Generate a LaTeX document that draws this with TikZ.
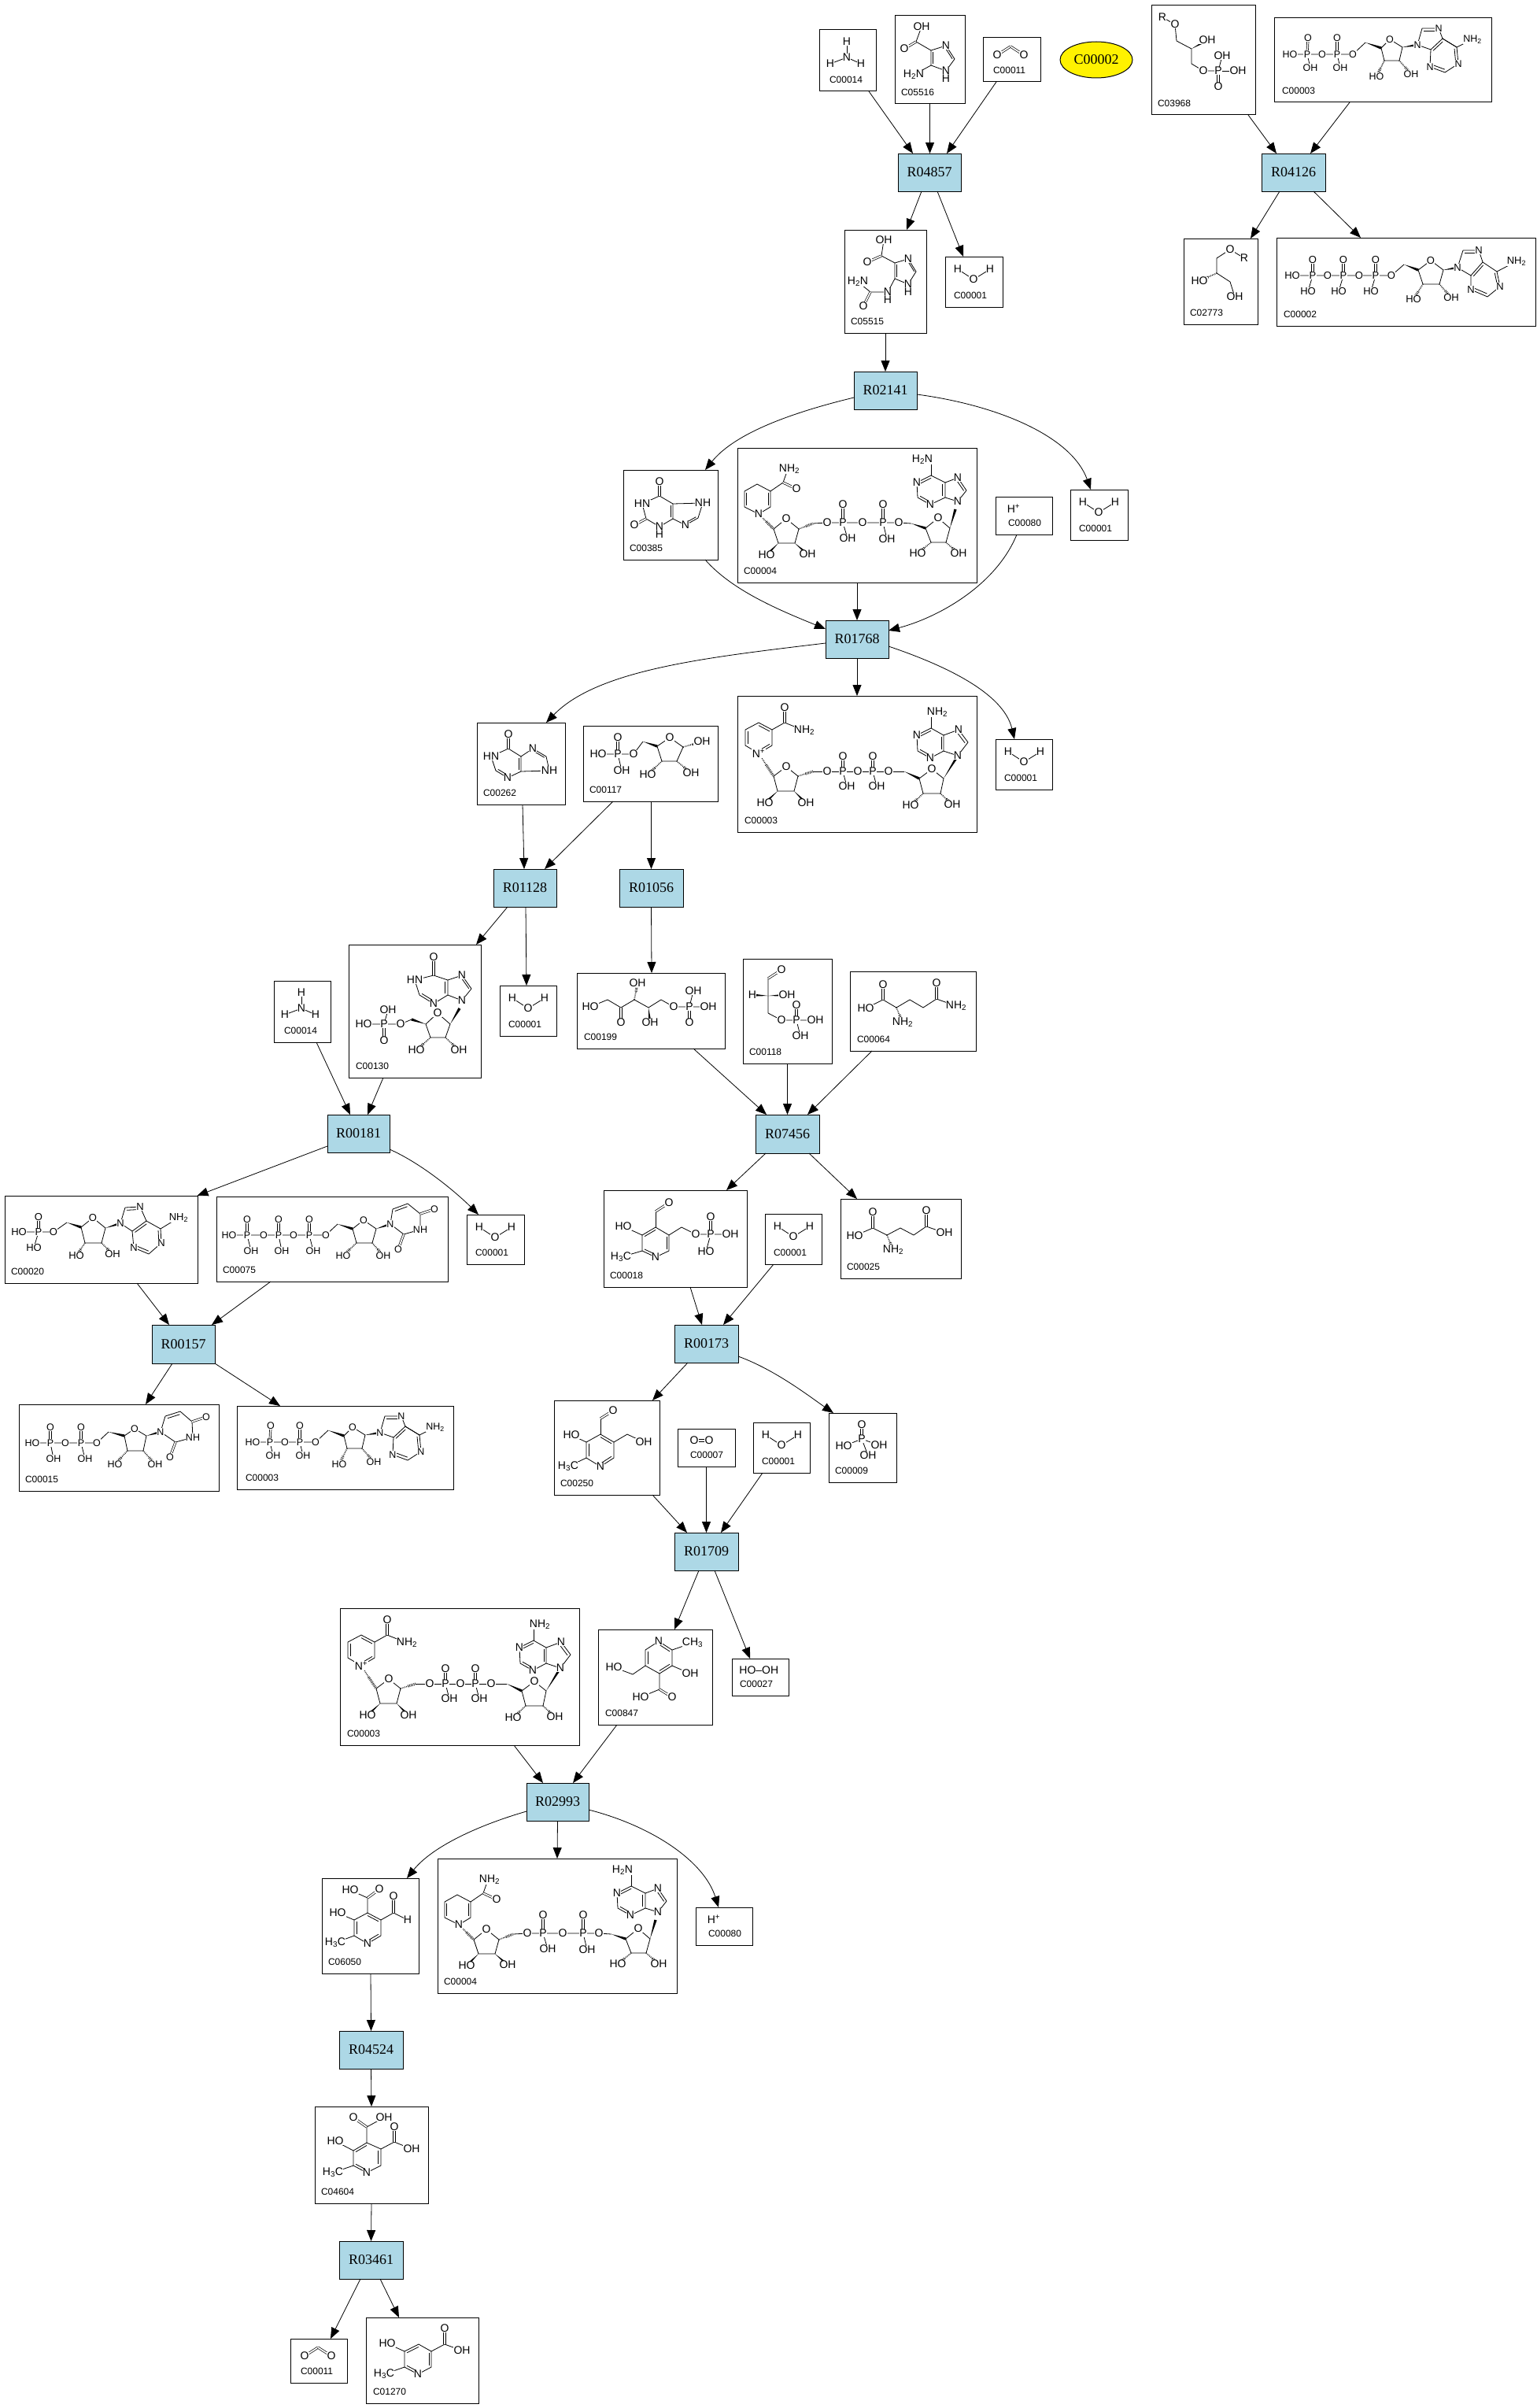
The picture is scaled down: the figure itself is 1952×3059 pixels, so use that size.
\documentclass[tikz,border=0pt]{standalone}
\usepackage{fontspec}
\setmainfont{Liberation Sans}
\newfontfamily\serifR{Liberation Serif}
\usetikzlibrary{arrows.meta,calc,shapes.geometric}
\newcount\atomcnt
\newcommand\afont{\fontsize{14}{15}\selectfont}
\tikzset{
  bd/.style={line width=.8pt,line join=round,black},
  edge/.style={line width=.8pt,black,-{Triangle[length=14pt,width=11pt]}},
  atom/.style={font=\afont,fill=white,inner sep=.4pt,outer sep=0pt,text=black},
  cbox/.style={draw=black,line width=1pt,fill=white,inner sep=0pt,outer sep=0pt},
  rbox/.style={draw=black,line width=1pt,fill=rxblue,inner sep=0pt,outer sep=0pt,font=\fontsize{18}{20}\serifR},
  lab/.style={font=\fontsize{12}{13}\selectfont,inner sep=0pt,outer sep=0pt,anchor=west},
}
\definecolor{rxblue}{HTML}{ADD8E6}
\newcommand\Bn[1]{\draw[bd] plot coordinates {#1};}
\newcommand\Db[2]{\draw[bd,double=white,double distance=1.7pt,line width=.7pt] (#1) -- (#2);}
\newcommand\Inr[3]{\draw[bd] ($(#1)!.18!(#3)$) -- ($(#2)!.18!(#3)$);}
\newcommand\Wd[2]{\fill[black] (#1) -- ($(#2)!1.7pt!90:(#1)$) -- ($(#2)!1.7pt!-90:(#1)$) -- cycle;}
\newcommand\Hh[2]{\draw[line width=1.6pt,dash pattern=on .7pt off 1.2pt] (#1) -- ($(#1)!.5!(#2)$);\draw[line width=3.2pt,dash pattern=on .7pt off 1.2pt] ($(#1)!.5!(#2)$) -- (#2);}
\newcommand\Ao[2]{\global\advance\atomcnt by 1 \node[atom] (atom\the\atomcnt) at (#1) {#2};}
\newcommand\NHt{NH\textsubscript{2}}
\newcommand\Cbox[8]{%
  \node[cbox,minimum width={(#4-#2)*1pt},minimum height={(#5-#3)*1pt}] (#1) at ({(#2+#4)/2},{(#3+#5)/2}) {};
  \begin{scope}[shift={(#2,#3)}]
  #8
  \node[lab] (#1-lab) at (#7,{#5-#3-14.5}) {#6};
  \end{scope}}
\newcommand\Rbox[6]{\node[rbox,minimum width={(#4-#2)*1pt},minimum height={(#5-#3)*1pt}] (#1) at ({(#2+#4)/2},{(#3+#5)/2}) {#6};}
\newcommand\Ed[4]{\draw[edge] ([xshift=#2pt]#1) -- ([xshift=#4pt]#3);}
\newcommand\Aden[9]{%
  \Bn{(#1)(#2)(#3)(#4)(#5)(#1)}\Bn{(#5)(#6)(#7)(#8)(#9)(#4)}
  \coordinate (hc) at ($(#4)!.5!(#7)$);\coordinate (pc) at ($(#4)!.5!(#1)$);
  \Inr{#5}{#4}{hc}\Inr{#6}{#7}{hc}\Inr{#8}{#9}{hc}\Inr{#2}{#3}{pc}
  \Ao{#1}{N}\Ao{#3}{N}\Ao{#6}{N}\Ao{#8}{N}}
\newcommand\MWater{\Bn{(16,16)(36,29)(57,16)}\Ao{16,16}{H}\Ao{36,29}{O}\Ao{57,16}{H}}
\newcommand\MAmm{\Bn{(35,15)(35,35)}\Bn{(14,43)(35,35)(53,43)}\Ao{35,15}{H}\Ao{35,35}{N}\Ao{14,43}{H}\Ao{53,43}{H}}
\newcommand\MCOO{\Db{18,22}{35,11}\Db{35,11}{52,22}\Ao{18,22}{O}\Ao{52,22}{O}}
\newcommand\MNADp{%
  \Bn{(27,73)(10,63)(10,43)(27,34)(44,43)(44,63)(27,73)}
  \Inr{10,43}{10,63}{27,54}\Inr{27,34}{44,43}{27,54}\Inr{44,63}{27,73}{27,54}
  \Bn{(44,43)(60,34)(85,44)}\Db{60,34}{60,15}
  \Hh{27,73}{46,102}
  \Bn{(46,102)(62,90)(77,102)(72,121)(51,121)(46,102)}
  \Wd{51,121}{35,136}\Wd{72,121}{87,136}
  \Hh{77,102}{96,96}\Bn{(96,96)(114,96)(134,96)(153,96)(172,96)(192,96)(212,96)}
  \Db{134,96}{134,77}\Db{172,96}{172,77}\Bn{(134,96)(139,115)}\Bn{(172,96)(177,115)}
  \Wd{212,96}{231,105}
  \Bn{(231,105)(247,93)(262,105)(258,124)(236,124)(231,105)}
  \Hh{236,124}{220,139}\Hh{258,124}{273,138}\Wd{262,105}{280,76}
  \Bn{(246,41)(246,21)}
  \Aden{280,76}{293,59}{281,43}{262,50}{262,70}{245,79}{229,70}{228,50}{246,41}
  \Ao{27,73}{N\textsuperscript{+}}\Ao{60,15}{O}\Ao{85,44}{\NHt}\Ao{62,90}{O}\Ao{35,136}{HO}\Ao{87,136}{OH}
  \Ao{114,96}{O}\Ao{134,96}{P}\Ao{134,77}{O}\Ao{139,115}{OH}\Ao{153,96}{O}\Ao{172,96}{P}\Ao{172,77}{O}\Ao{177,115}{OH}\Ao{192,96}{O}
  \Ao{247,93}{O}\Ao{220,139}{HO}\Ao{273,138}{OH}\Ao{254,21}{\NHt}}
\newcommand\MNADH{%
  \Bn{(27,84)(9,75)(9,55)(25,46)(42,55)(42,75)(27,84)}\Inr{9,55}{9,75}{25,65}\Inr{42,55}{42,75}{25,65}
  \Bn{(42,55)(58,44)(63,30)}\Db{58,44}{75,52}
  \Hh{27,84}{46,103}
  \Bn{(46,103)(62,90)(78,103)(73,121)(52,121)(46,103)}
  \Wd{52,121}{37,136}\Wd{73,121}{89,135}
  \Hh{78,103}{96,96}\Bn{(96,96)(114,95)(134,95)(159,95)(185,95)(205,95)(221,96)}
  \Db{134,95}{134,72}\Db{185,95}{185,72}\Bn{(134,95)(140,115)}\Bn{(185,95)(190,116)}
  \Wd{221,96}{239,102}
  \Bn{(239,102)(255,89)(270,102)(265,120)(246,120)(239,102)}
  \Hh{246,120}{229,134}\Hh{265,120}{281,134}\Wd{270,102}{277,78}
  \Bn{(246,35)(246,15)}
  \Aden{280,68}{291,54}{280,38}{264,44}{264,63}{245,72}{229,63}{228,44}{246,35}
  \Ao{27,84}{N}\Ao{66,27}{\NHt}\Ao{75,52}{O}\Ao{62,90}{O}\Ao{37,136}{HO}\Ao{89,135}{OH}
  \Ao{114,95}{O}\Ao{134,95}{P}\Ao{134,72}{O}\Ao{140,115}{OH}\Ao{159,95}{O}\Ao{185,95}{P}\Ao{185,72}{O}\Ao{190,116}{OH}\Ao{205,95}{O}
  \Ao{255,89}{O}\Ao{229,134}{HO}\Ao{281,134}{OH}\Ao{235,15}{H\textsubscript{2}N}}
\newcommand\MADP{%
  \renewcommand\afont{\fontsize{12.5}{13}\selectfont}%
  \Bn{(20,46)(42,46)(61,46)(80,46)(100,46)(116,31)}
  \Db{42,46}{43,25}\Db{80,46}{80,25}\Bn{(42,46)(46,63)}\Bn{(80,46)(84,63)}
  \Wd{116,31}{136,38}
  \Bn{(136,38)(147,27)(163,37)(159,54)(140,54)(136,38)}
  \Hh{140,54}{130,74}\Hh{159,54}{174,71}\Wd{163,37}{182,34}
  \Bn{(214,26)(232,37)(252,27)}
  \Aden{182,34}{188,13}{209,13}{214,26}{199,40}{198,62}{217,69}{234,58}{232,37}
  \Ao{20,46}{HO}\Ao{42,46}{P}\Ao{43,25}{O}\Ao{46,63}{OH}\Ao{61,46}{O}\Ao{80,46}{P}\Ao{80,25}{O}\Ao{84,63}{OH}\Ao{100,46}{O}
  \Ao{147,27}{O}\Ao{130,74}{HO}\Ao{174,71}{OH}\Ao{252,27}{\NHt}}
\begin{document}
\begin{tikzpicture}[x=1pt,y=-1pt]
\useasboundingbox (0,0) rectangle (1952,3059);
\fill[white] (0,0) rectangle (1952,3059);

% ---------- top left group
\Cbox{c14a}{1041}{38}{1113}{116}{C00014}{13}{\MAmm}
\Cbox{c5516}{1137}{20}{1226}{132}{C05516}{8}{%
  \Bn{(34,14)(27,33)(46,44)(65,38)(76,55)(65,70)(46,63)(46,44)}\Bn{(46,63)(24,75)}\Db{27,33}{12,42}\Inr{46,44}{46,63}{60,54}\Inr{65,38}{76,55}{60,54}
  \Ao{34,14}{OH}\Ao{12,42}{O}\Ao{65,38}{N}\Ao{65,70}{N}\Ao{65,80}{H}\Ao{24,75}{H\textsubscript{2}N}}
\Cbox{c11a}{1249}{48}{1322}{104}{C00011}{13}{\MCOO}
\node[ellipse,draw=black,line width=1pt,fill=yellow,inner sep=0pt,outer sep=0pt,minimum width=92pt,minimum height=46pt,font=\fontsize{18}{20}\serifR] (c2y) at (1393,76) {C00002};
\Rbox{r4857}{1141}{195}{1221}{243}{R04857}
\Cbox{c5515}{1073}{292}{1177}{423}{C05515}{8}{%
  \Bn{(50,13)(47,33)(64,42)(81,37)(91,53)(81,69)(64,62)(64,42)}\Db{47,33}{29,41}\Inr{64,42}{64,62}{78,52}\Inr{81,37}{91,53}{78,52}
  \Bn{(64,62)(55,79)(33,79)(17,66)}\Db{33,79}{24,97}
  \Ao{50,13}{OH}\Ao{29,41}{O}\Ao{81,37}{N}\Ao{81,69}{N}\Ao{81,79}{H}\Ao{17,66}{H\textsubscript{2}N}\Ao{24,97}{O}\Ao{55,79}{N}\Ao{55,89}{H}}
\Cbox{c1a}{1201}{326}{1274}{390}{C00001}{11}{\MWater}
\Rbox{r2141}{1085}{472}{1165}{520}{R02141}

% ---------- top right group
\Cbox{c3968}{1463}{7}{1595}{146}{C03968}{8}{%
  \Bn{(14,15)(30,24)(32,45)(51,55)(51,74)(66,83)(85,83)(90,64)}\Bn{(85,83)(110,83)}\Db{85,83}{85,103}\Wd{51,55}{71,44}
  \Ao{14,15}{R}\Ao{30,24}{O}\Ao{71,44}{OH}\Ao{66,83}{O}\Ao{85,83}{P}\Ao{90,64}{OH}\Ao{110,83}{OH}\Ao{85,103}{O}}
\Cbox{c3a}{1619}{23}{1895}{130}{C00003}{10}{\MADP}
\Rbox{r4126}{1603}{195}{1684}{243}{R04126}
\Cbox{c2773}{1504}{303}{1598}{412}{C02773}{8}{%
  \Bn{(77,25)(59,14)(42,25)(42,44)(59,55)(65,74)}\Hh{42,44}{20,54}
  \Ao{59,14}{O}\Ao{77,25}{R}\Ao{20,54}{HO}\Ao{65,74}{OH}}
\Cbox{c2}{1622}{302}{1951}{414}{C00002}{9}{%
  \renewcommand\afont{\fontsize{13}{14}\selectfont}%
  \Bn{(20,48)(46,48)(65,48)(85,48)(105,48)(126,48)(146,48)(162,34)}
  \Db{46,48}{46,28}\Db{85,48}{85,28}\Db{126,48}{126,28}\Bn{(46,48)(40,68)}\Bn{(85,48)(79,68)}\Bn{(126,48)(120,68)}
  \Wd{162,34}{180,41}
  \Bn{(180,41)(196,29)(212,41)(207,59)(186,59)(180,41)}
  \Hh{186,59}{174,78}\Hh{207,59}{222,76}\Wd{212,41}{230,38}
  \Bn{(280,43)(305,30)}
  \Aden{230,38}{237,16}{257,16}{262,31}{247,48}{247,66}{268,75}{284,62}{280,43}
  \Ao{20,48}{HO}\Ao{46,48}{P}\Ao{46,28}{O}\Ao{40,68}{HO}\Ao{65,48}{O}\Ao{85,48}{P}\Ao{85,28}{O}\Ao{79,68}{HO}\Ao{105,48}{O}\Ao{126,48}{P}\Ao{126,28}{O}\Ao{120,68}{HO}\Ao{146,48}{O}
  \Ao{196,29}{O}\Ao{174,78}{HO}\Ao{222,76}{OH}\Ao{305,30}{\NHt}}

% ---------- R01768 row
\Cbox{c385}{792}{597}{912}{711}{C00385}{8}{%
  \Bn{(46,33)(24,43)(29,62)(46,72)(63,62)(63,43)(46,33)}\Bn{(63,43)(101,42)(95,61)(79,70)(63,62)}\Db{46,33}{46,15}\Db{29,62}{14,70}\Inr{63,62}{63,43}{46,52}\Inr{95,61}{79,70}{80,54}
  \Ao{46,15}{O}\Ao{24,43}{HN}\Ao{14,70}{O}\Ao{46,72}{N}\Ao{46,82}{H}\Ao{101,42}{NH}\Ao{79,70}{N}}
\Cbox{c4a}{937}{569}{1241}{740}{C00004}{8}{\MNADH}
\Cbox{c80a}{1265}{631}{1337}{679}{C00080}{16}{\Ao{23,15}{H\textsuperscript{+}}}
\Cbox{c1b}{1360}{622}{1433}{686}{C00001}{11}{\MWater}
\Rbox{r1768}{1049}{788}{1129}{836}{R01768}
\Cbox{c3b}{937}{884}{1241}{1057}{C00003}{9}{\MNADp}
\Cbox{c1c}{1265}{939}{1337}{1003}{C00001}{11}{\MWater}
\Cbox{c262}{606}{918}{718}{1022}{C00262}{8}{%
  \Bn{(40,33)(18,43)(24,61)(39,70)(56,62)(56,43)(40,33)}\Bn{(56,43)(71,33)(88,43)(92,61)(56,62)}\Db{40,33}{40,15}\Inr{56,62}{56,43}{40,52}\Inr{24,61}{39,70}{40,52}\Inr{71,33}{88,43}{75,50}
  \Ao{40,15}{O}\Ao{18,43}{HN}\Ao{39,70}{N}\Ao{71,33}{N}\Ao{92,61}{NH}}
\Cbox{c117}{741}{922}{912}{1018}{C00117}{8}{%
  \Bn{(19,36)(44,36)(64,36)(76,20)}\Db{44,36}{44,15}\Bn{(44,36)(49,57)}\Wd{76,20}{94,26}
  \Bn{(94,26)(110,15)(127,27)(119,45)(100,45)(94,26)}\Hh{100,45}{82,62}\Hh{119,45}{137,60}\Hh{127,27}{151,20}
  \Ao{19,36}{HO}\Ao{44,36}{P}\Ao{44,15}{O}\Ao{49,57}{OH}\Ao{64,36}{O}\Ao{110,15}{O}\Ao{82,62}{HO}\Ao{137,60}{OH}\Ao{151,20}{OH}}
\Rbox{r1128}{627}{1104}{707}{1152}{R01128}
\Rbox{r1056}{787}{1104}{868}{1152}{R01056}
\Cbox{c130}{443}{1200}{611}{1369}{C00130}{9}{%
  \Bn{(108,39)(84,45)(90,64)(108,75)(126,64)(126,45)(108,39)}\Bn{(126,45)(144,39)(156,56)(144,71)(126,64)}\Db{108,39}{108,16}\Inr{90,64}{108,75}{108,55}\Inr{126,64}{126,45}{108,55}\Inr{144,39}{156,56}{138,55}
  \Wd{129,101}{141,81}
  \Bn{(129,101)(113,87)(98,101)(104,118)(123,118)(129,101)}\Hh{104,118}{86,134}\Hh{123,118}{140,134}
  \Wd{98,101}{80,95}\Bn{(80,95)(66,101)(45,101)(19,101)}\Bn{(45,101)(50,83)}\Db{45,101}{45,122}
  \Ao{108,16}{O}\Ao{84,45}{HN}\Ao{108,75}{N}\Ao{144,39}{N}\Ao{144,71}{N}\Ao{113,87}{O}\Ao{86,134}{HO}\Ao{140,134}{OH}\Ao{66,101}{O}\Ao{45,101}{P}\Ao{50,83}{OH}\Ao{19,101}{HO}\Ao{45,122}{O}}
\Cbox{c1d}{635}{1252}{707}{1316}{C00001}{11}{\MWater}
\Cbox{c199}{733}{1236}{921}{1332}{C00199}{9}{%
  \Bn{(17,43)(39,34)(56,44)(73,34)(91,44)(107,34)(123,43)(143,43)(167,43)}\Bn{(143,43)(148,23)}\Db{56,44}{56,63}\Db{143,43}{143,63}\Hh{73,34}{77,13}\Wd{91,44}{93,63}
  \Ao{17,43}{HO}\Ao{56,63}{O}\Ao{77,13}{OH}\Ao{93,63}{OH}\Ao{123,43}{O}\Ao{143,43}{P}\Ao{148,23}{OH}\Ao{167,43}{OH}\Ao{143,63}{O}}
\Cbox{c118}{944}{1218}{1057}{1351}{C00118}{8}{%
  \Db{32,25}{49,14}\Bn{(32,25)(32,47)(32,69)(49,78)(68,78)(92,78)}\Bn{(68,78)(73,98)}\Db{68,78}{68,59}\Wd{32,47}{12,46}\Wd{32,47}{56,46}
  \Ao{49,14}{O}\Ao{12,46}{H}\Ao{56,46}{OH}\Ao{49,78}{O}\Ao{68,78}{P}\Ao{68,59}{O}\Ao{92,78}{OH}\Ao{73,98}{OH}}
\Cbox{c64}{1080}{1234}{1240}{1335}{C00064}{9}{%
  \Bn{(20,47)(42,36)(59,46)(76,36)(93,46)(110,35)(135,44)}\Db{42,36}{42,17}\Db{110,35}{110,15}\Hh{59,46}{67,65}
  \Ao{42,17}{O}\Ao{20,47}{HO}\Ao{67,65}{\NHt}\Ao{110,15}{O}\Ao{135,44}{\NHt}}

% ---------- R00181 group
\Cbox{c14b}{348}{1246}{420}{1324}{C00014}{13}{\MAmm}
\Rbox{r181}{416}{1416}{495}{1464}{R00181}
\Cbox{c20}{6}{1519}{251}{1630}{C00020}{8}{%
  \renewcommand\afont{\fontsize{13}{14}\selectfont}%
  \Bn{(18,46)(43,46)(62,46)(79,34)}\Db{43,46}{43,27}\Bn{(43,46)(37,66)}\Wd{79,34}{97,40}
  \Bn{(97,40)(112,28)(128,41)(123,60)(102,60)(97,40)}\Hh{102,60}{91,76}\Hh{123,60}{137,74}\Wd{128,41}{147,35}
  \Bn{(198,42)(221,28)}
  \Aden{147,35}{153,15}{172,14}{180,32}{162,45}{164,66}{183,74}{199,60}{198,42}
  \Ao{18,46}{HO}\Ao{43,46}{P}\Ao{43,27}{O}\Ao{37,66}{HO}\Ao{62,46}{O}\Ao{112,28}{O}\Ao{91,76}{HO}\Ao{137,74}{OH}\Ao{221,28}{\NHt}}
\Cbox{c75}{275}{1520}{569}{1628}{C00075}{8}{%
  \renewcommand\afont{\fontsize{12.5}{13}\selectfont}%
  \Bn{(16,49)(39,49)(60,49)(79,49)(98,49)(118,49)(139,49)(154,35)}
  \Db{39,49}{39,29}\Db{79,49}{79,29}\Db{118,49}{118,29}\Bn{(39,49)(44,69)}\Bn{(79,49)(83,69)}\Bn{(118,49)(123,69)}
  \Wd{154,35}{173,41}\Bn{(173,41)(187,30)(203,41)(198,59)(178,59)(173,41)}\Hh{178,59}{161,75}\Hh{198,59}{212,75}\Wd{203,41}{221,35}
  \Bn{(221,35)(224,16)(243,9)(259,22)(259,42)(238,48)(221,35)}\Inr{224,16}{243,9}{240,30}\Db{259,22}{277,16}\Db{238,48}{231,67}
  \Ao{16,49}{HO}\Ao{39,49}{P}\Ao{39,29}{O}\Ao{44,69}{OH}\Ao{60,49}{O}\Ao{79,49}{P}\Ao{79,29}{O}\Ao{83,69}{OH}\Ao{98,49}{O}\Ao{118,49}{P}\Ao{118,29}{O}\Ao{123,69}{OH}\Ao{139,49}{O}
  \Ao{187,30}{O}\Ao{161,75}{HO}\Ao{212,75}{OH}\Ao{221,35}{N}\Ao{277,16}{O}\Ao{259,42}{NH}\Ao{231,67}{O}}
\Cbox{c1e}{593}{1543}{666}{1606}{C00001}{11}{\MWater}
\Rbox{r157}{193}{1683}{273}{1732}{R00157}
\Cbox{c15}{24}{1784}{278}{1894}{C00015}{8}{%
  \renewcommand\afont{\fontsize{12.5}{13}\selectfont}%
  \Bn{(17,49)(40,49)(59,49)(79,49)(99,49)(114,35)}
  \Db{40,49}{40,29}\Db{79,49}{79,29}\Bn{(40,49)(44,69)}\Bn{(79,49)(84,69)}
  \Wd{114,35}{134,40}\Bn{(134,40)(147,31)(162,40)(158,59)(138,59)(134,40)}\Hh{138,59}{122,76}\Hh{158,59}{173,76}\Wd{162,40}{180,35}
  \Bn{(180,35)(186,15)(205,9)(220,22)(221,42)(199,48)(180,35)}\Inr{186,15}{205,9}{202,30}\Db{220,22}{238,16}\Db{199,48}{192,67}
  \Ao{17,49}{HO}\Ao{40,49}{P}\Ao{40,29}{O}\Ao{44,69}{OH}\Ao{59,49}{O}\Ao{79,49}{P}\Ao{79,29}{O}\Ao{84,69}{OH}\Ao{99,49}{O}
  \Ao{147,31}{O}\Ao{122,76}{HO}\Ao{173,76}{OH}\Ao{180,35}{N}\Ao{238,16}{O}\Ao{221,42}{NH}\Ao{192,67}{O}}
\Cbox{c3c}{301}{1786}{576}{1892}{C00003}{11}{\MADP}

% ---------- R07456 group
\Rbox{r7456}{960}{1416}{1041}{1465}{R07456}
\Cbox{c18}{767}{1512}{949}{1635}{C00018}{8}{%
  \Bn{(66,47)(49,57)(49,77)(66,85)(83,77)(83,57)(66,47)}\Inr{66,47}{49,57}{66,66}\Inr{49,77}{66,85}{66,66}\Inr{83,77}{83,57}{66,66}
  \Bn{(66,47)(66,27)}\Db{66,27}{83,16}\Bn{(49,57)(25,46)}\Bn{(49,77)(22,85)}\Bn{(83,57)(99,47)(117,56)(136,56)(161,56)}\Db{136,56}{136,34}\Bn{(136,56)(130,78)}
  \Ao{83,16}{O}\Ao{25,46}{HO}\Ao{22,85}{H\textsubscript{3}C}\Ao{66,85}{N}\Ao{117,56}{O}\Ao{136,56}{P}\Ao{136,34}{O}\Ao{161,56}{OH}\Ao{130,78}{HO}}
\Cbox{c1f}{972}{1542}{1044}{1606}{C00001}{11}{\MWater}
\Cbox{c25}{1068}{1523}{1221}{1624}{C00025}{8}{%
  \Bn{(18,47)(41,37)(59,46)(76,37)(93,46)(109,35)(132,43)}\Db{41,37}{41,17}\Db{109,35}{109,15}\Hh{59,46}{67,65}
  \Ao{41,17}{O}\Ao{18,47}{HO}\Ao{67,65}{\NHt}\Ao{109,15}{O}\Ao{132,43}{OH}}
\Rbox{r173}{857}{1683}{938}{1731}{R00173}
\Cbox{c250}{704}{1779}{838}{1899}{C00250}{8}{%
  \Bn{(59,43)(41,53)(41,73)(59,84)(76,73)(76,53)(59,43)}\Inr{59,43}{76,53}{59,63}\Inr{41,53}{41,73}{59,63}\Inr{59,84}{76,73}{59,63}
  \Bn{(59,43)(59,23)}\Db{59,23}{75,13}\Bn{(41,53)(22,44)}\Bn{(41,73)(18,84)}\Bn{(76,53)(93,43)(114,53)}
  \Ao{75,13}{O}\Ao{22,44}{HO}\Ao{18,84}{H\textsubscript{3}C}\Ao{59,84}{N}\Ao{114,53}{OH}}
\Cbox{c7}{861}{1815}{934}{1863}{C00007}{16}{\Db{21,15}{40,15}\Ao{21,15}{O}\Ao{40,15}{O}}
\Cbox{c1g}{957}{1807}{1029}{1871}{C00001}{11}{\MWater}
\Cbox{c9}{1053}{1795}{1139}{1883}{C00009}{8}{%
  \Db{42,33}{42,15}\Bn{(19,42)(42,33)(64,41)}\Bn{(42,33)(50,54)}
  \Ao{42,15}{O}\Ao{42,33}{P}\Ao{19,42}{HO}\Ao{64,41}{OH}\Ao{50,54}{OH}}
\Rbox{r1709}{857}{1947}{938}{1995}{R01709}

% ---------- R02993 group
\Cbox{c3d}{432}{2043}{736}{2217}{C00003}{9}{\MNADp}
\Cbox{c847}{760}{2070}{905}{2191}{C00847}{9}{%
  \Bn{(77,15)(94,26)(94,46)(78,56)(60,46)(60,26)(77,15)}\Inr{77,15}{94,26}{77,36}\Inr{94,46}{78,56}{77,36}\Inr{60,46}{60,26}{77,36}
  \Bn{(94,26)(120,17)}\Bn{(94,46)(117,56)}\Bn{(60,46)(44,57)(20,48)}\Bn{(78,56)(78,76)(54,86)}\Db{78,76}{94,86}
  \Ao{77,15}{N}\Ao{120,17}{CH\textsubscript{3}}\Ao{117,56}{OH}\Ao{20,48}{HO}\Ao{54,86}{HO}\Ao{94,86}{O}}
\Cbox{c27}{930}{2107}{1002}{2154}{C00027}{10}{\node[atom,anchor=west] (c27-t) at (9,15) {HO--OH};}
\Rbox{r2993}{669}{2265}{748}{2313}{R02993}
\Cbox{c6050}{409}{2386}{532}{2507}{C06050}{8}{%
  \Bn{(58,44)(41,53)(41,73)(58,83)(75,73)(75,53)(58,44)}\Inr{58,44}{75,53}{58,63}\Inr{41,53}{41,73}{58,63}\Inr{58,83}{75,73}{58,63}
  \Bn{(58,44)(58,25)(36,15)}\Db{58,25}{73,14}\Bn{(41,53)(20,44)}\Bn{(41,73)(17,82)}\Bn{(75,53)(91,44)(109,53)}\Db{91,44}{91,23}
  \Ao{36,15}{HO}\Ao{73,14}{O}\Ao{20,44}{HO}\Ao{17,82}{H\textsubscript{3}C}\Ao{58,83}{N}\Ao{91,23}{O}\Ao{109,53}{H}}
\Cbox{c4b}{556}{2361}{860}{2532}{C00004}{8}{\MNADH}
\Cbox{c80b}{884}{2423}{956}{2471}{C00080}{16}{\Ao{23,15}{H\textsuperscript{+}}}
\Rbox{r4524}{431}{2580}{512}{2628}{R04524}
\Cbox{c4604}{400}{2676}{544}{2799}{C04604}{8}{%
  \Bn{(66,46)(49,56)(49,75)(66,84)(84,75)(84,54)(66,46)}\Inr{66,46}{49,56}{66,65}\Inr{49,75}{66,84}{66,65}\Inr{84,75}{84,54}{66,65}
  \Bn{(66,46)(66,26)(88,14)}\Db{66,26}{49,14}\Bn{(49,56)(26,44)}\Bn{(49,75)(23,84)}\Bn{(84,54)(101,45)(123,54)}\Db{101,45}{101,26}
  \Ao{49,14}{O}\Ao{88,14}{OH}\Ao{26,44}{HO}\Ao{23,84}{H\textsubscript{3}C}\Ao{66,84}{N}\Ao{101,26}{O}\Ao{123,54}{OH}}
\Rbox{r3461}{431}{2847}{512}{2895}{R03461}
\Cbox{c11b}{369}{2971}{441}{3027}{C00011}{13}{\MCOO}
\Cbox{c1270}{465}{2944}{608}{3053}{C01270}{9}{%
  \Bn{(49,43)(67,34)(83,43)(83,63)(66,72)(49,63)(49,43)}\Inr{49,43}{67,34}{66,53}\Inr{83,43}{83,63}{66,53}\Inr{66,72}{49,63}{66,53}
  \Bn{(49,43)(27,33)}\Bn{(49,63)(23,72)}\Bn{(83,43)(100,34)(122,42)}\Db{100,34}{100,14}
  \Ao{27,33}{HO}\Ao{23,72}{H\textsubscript{3}C}\Ao{66,72}{N}\Ao{100,14}{O}\Ao{122,42}{OH}}

% ---------- connectors
\Ed{c14a.south}{27}{r4857.north}{-21}
\Ed{c5516.south}{0}{r4857.north}{0.5}
\Ed{c11a.south}{-19.5}{r4857.north}{22}
\Ed{r4857.south}{-10}{c5515.north}{27}
\Ed{r4857.south}{10}{c1a.north}{-13.5}
\Ed{c5515.south}{0}{r2141.north}{0}
\Ed{c3968.south}{57}{r4126.north}{-21.5}
\Ed{c3a.south}{-42}{r4126.north}{21.5}
\Ed{r4126.south}{-17.5}{c2773.north}{38}
\Ed{r4126.south}{25.5}{c2.north}{-57.5}
\draw[edge] ([yshift=-9pt]r2141.west) .. controls (990,528) and (930,555) .. ([xshift=44pt]c385.north);
\draw[edge] ([yshift=-5pt]r2141.east) .. controls (1270,515) and (1362,555) .. ([xshift=-10.5pt]c1b.north);
\draw[edge] ([xshift=44pt]c385.south) .. controls (930,750) and (990,775) .. ([yshift=13pt]r1768.west);
\Ed{c4a.south}{0}{r1768.north}{0}
\draw[edge] ([xshift=-9pt]c80a.south) .. controls (1265,745) and (1190,785) .. ([yshift=11pt]r1768.east);
\draw[edge] ([yshift=-5pt]r1768.west) .. controls (900,835) and (760,850) .. ([xshift=32pt]c262.north);
\Ed{r1768.south}{0}{c3b.north}{0}
\draw[edge] ([yshift=-9pt]r1768.east) .. controls (1200,845) and (1275,880) .. ([xshift=-12pt]c1c.north);
\Ed{c262.south}{2}{r1128.north}{-1}
\Ed{c117.south}{-47.5}{r1128.north}{25}
\Ed{c117.south}{1}{r1056.north}{0}
\Ed{r1128.south}{-22}{c130.north}{78}
\Ed{r1128.south}{1}{c1d.north}{-2}
\Ed{r1056.south}{0}{c199.north}{1}
\Ed{c14b.south}{18}{r181.north}{-10.5}
\Ed{c130.south}{-40}{r181.north}{11.5}
\draw[edge] ([yshift=-16pt]r181.west) -- ([xshift=122pt]c20.north);
\draw[edge] ([yshift=-20pt]r181.east) .. controls (540,1480) and (585,1520) .. ([xshift=-21.5pt]c1e.north);
\Ed{c20.south}{45.5}{r157.north}{-18}
\Ed{c75.south}{-78}{r157.north}{36}
\Ed{r157.south}{-14}{c15.north}{34}
\Ed{r157.south}{40}{c3c.north}{-82.5}
\Ed{c199.south}{54}{r7456.north}{-26.5}
\Ed{c118.south}{0}{r7456.north}{0}
\Ed{c64.south}{-52}{r7456.north}{25.5}
\Ed{r7456.south}{-27.5}{c18.north}{65}
\Ed{r7456.south}{27.5}{c25.north}{-55.5}
\Ed{c18.south}{19}{r173.north}{-5.5}
\Ed{c1f.south}{-25}{r173.north}{21.5}
\Ed{r173.south}{-23.5}{c250.north}{58}
\draw[edge] ([yshift=-16pt]r173.east) .. controls (985,1740) and (1030,1775) .. ([xshift=-37pt]c9.north);
\Ed{c250.south}{58}{r1709.north}{-24.5}
\Ed{c7.south}{0}{r1709.north}{0}
\Ed{c1g.south}{-24}{r1709.north}{18.5}
\Ed{r1709.south}{-9.5}{c847.north}{24.5}
\Ed{r1709.south}{10.5}{c27.north}{-13}
\Ed{c3d.south}{69}{r2993.north}{-18.5}
\Ed{c847.south}{-48.5}{r2993.north}{19.5}
\draw[edge] ([yshift=-12pt]r2993.west) .. controls (610,2318) and (550,2345) .. ([xshift=46.5pt]c6050.north);
\Ed{r2993.south}{0}{c4b.north}{0}
\draw[edge] ([yshift=-10pt]r2993.east) .. controls (830,2320) and (895,2365) .. ([xshift=-7pt]c80b.north);
\Ed{c6050.south}{0.5}{r4524.north}{0}
\Ed{r4524.south}{0}{c4604.north}{0}
\Ed{c4604.south}{0}{r3461.north}{0}
\Ed{r3461.south}{-13.5}{c11b.north}{15}
\Ed{r3461.south}{11.5}{c1270.north}{-29.5}
\end{tikzpicture}
\end{document}
